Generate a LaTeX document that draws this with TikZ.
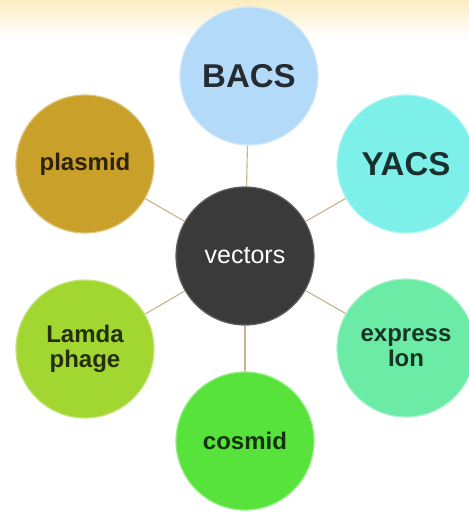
\documentclass[tikz,border=0pt]{standalone}
\usepackage{fontspec}
\setmainfont{Liberation Sans}
\definecolor{cBacs}{HTML}{B3DAF8}
\definecolor{cYacs}{HTML}{7EF0EA}
\definecolor{cPlas}{HTML}{C9A02A}
\definecolor{cLam}{HTML}{A2D630}
\definecolor{cExp}{HTML}{6CEBA6}
\definecolor{cCos}{HTML}{58E23C}
\definecolor{cVec}{HTML}{3A3A3A}
\definecolor{cLink}{HTML}{C8B48C}
\definecolor{cBand}{HTML}{FCEDC0}
\tikzset{
  bubble/.style={circle, minimum size=138pt, inner sep=0pt, align=center,
    font=\bfseries\fontsize{24}{25}\selectfont, line width=1.2pt},
  link/.style={draw=cLink, line width=1.1pt},
}
\begin{document}
\begin{tikzpicture}[x=1pt,y=-1pt]
\useasboundingbox (0,0) rectangle (469,512);
\clip (0,0) rectangle (469,512);
\fill[white] (0,0) rectangle (469,512);
\shade[top color=cBand, bottom color=white] (0,0) rectangle (469,38);
\node[bubble, fill=cVec, draw=cVec!80!white, text=white, font=\fontsize{25}{25}\selectfont] (vec) at (245,256) {vectors};
\node[bubble, fill=cBacs, draw=cBacs!60!white, text=cBacs!20!black, font=\bfseries\fontsize{33}{33}\selectfont] (bacs) at (249,76) {BACS};
\node[bubble, fill=cYacs, draw=cYacs!60!white, text=cYacs!20!black, font=\bfseries\fontsize{33}{33}\selectfont] (yacs) at (406,164) {YACS};
\node[bubble, fill=cPlas, draw=cPlas!60!white, text=cPlas!22!black] (plas) at (85,164) {plasmid};
\node[bubble, fill=cLam, draw=cLam!60!white, text=cLam!22!black] (lam) at (85,349) {Lamda\\phage};
\node[bubble, fill=cExp, draw=cExp!60!white, text=cExp!22!black] (exp) at (406,348) {express\\Ion};
\node[bubble, fill=cCos, draw=cCos!60!white, text=cCos!22!black] (cos) at (245,441) {cosmid};
\path[link] (vec) -- (bacs);
\path[link] (vec) -- (yacs);
\path[link] (vec) -- (plas);
\path[link] (vec) -- (lam);
\path[link] (vec) -- (exp);
\path[link] (vec) -- (cos);
\end{tikzpicture}
\end{document}
